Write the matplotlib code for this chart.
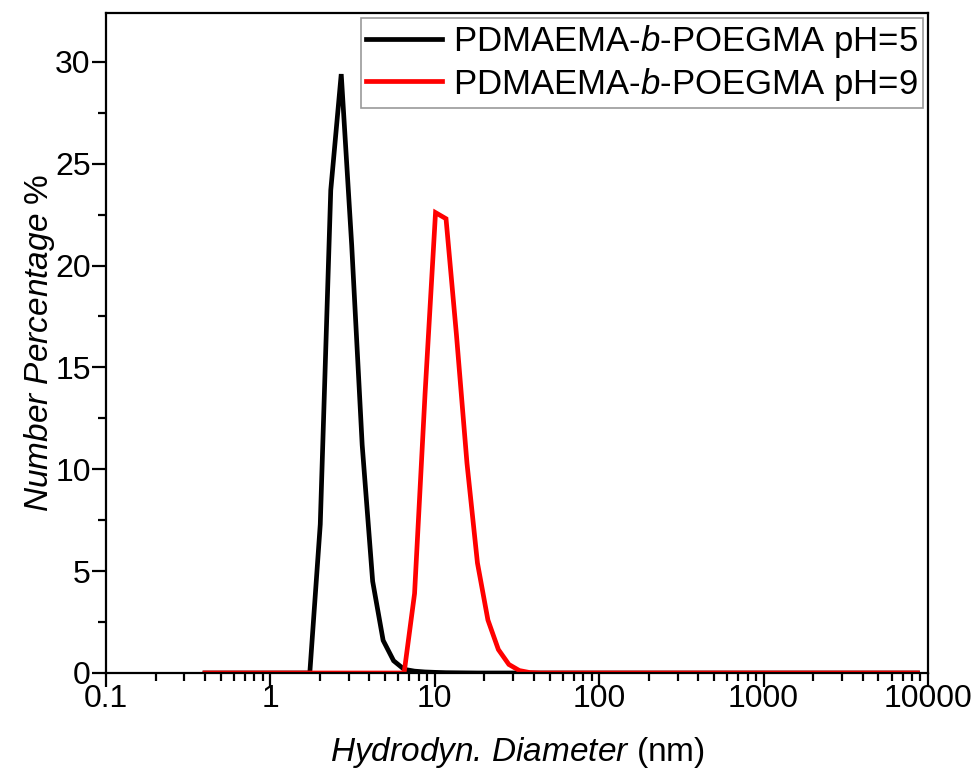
import matplotlib
matplotlib.use("Agg")
import matplotlib.pyplot as plt
from matplotlib.ticker import LogLocator, MultipleLocator, FixedLocator, FixedFormatter, NullFormatter

plt.rcParams['font.family'] = ['Liberation Sans', 'DejaVu Sans']
plt.rcParams['mathtext.fontset'] = 'custom'
plt.rcParams['mathtext.rm'] = 'Liberation Sans'
plt.rcParams['mathtext.it'] = 'Liberation Sans:italic'

# DLS size classes (nm)
diameter_nm = [0.4, 0.4632, 0.5365, 0.6213, 0.7195, 0.8332, 0.9649, 1.117, 1.294, 1.499,
               1.736, 2.01, 2.328, 2.696, 3.122, 3.615, 4.187, 4.849, 5.615, 6.503,
               7.531, 8.721, 10.1, 11.7, 13.54, 15.69, 18.17, 21.04, 24.36, 28.21,
               32.67, 37.84, 43.82, 50.75, 58.77, 68.06, 78.82, 91.28, 105.7, 122.4,
               141.8, 164.2, 190.1, 220.2, 255.0, 295.3, 342.0, 396.1, 458.7, 531.2,
               615.1, 712.4, 825.0, 955.4, 1106, 1281, 1484, 1718, 1990, 2305,
               2669, 3091, 3580, 4145, 4801, 5560, 6439, 7456, 8635]

# Number distribution, pH = 5
number_ph5 = [0, 0, 0, 0, 0, 0, 0, 0, 0, 0,
              0, 7.3, 23.7, 29.4, 21.0, 11.2, 4.5, 1.6, 0.6, 0.18,
              0.09, 0.05, 0.03, 0.015, 0.01, 0.005, 0, 0, 0, 0,
              0, 0, 0, 0, 0, 0, 0, 0, 0, 0,
              0, 0, 0, 0, 0, 0, 0, 0, 0, 0,
              0, 0, 0, 0, 0, 0, 0, 0, 0, 0,
              0, 0, 0, 0, 0, 0, 0, 0, 0]

# Number distribution, pH = 9
number_ph9 = [0, 0, 0, 0, 0, 0, 0, 0, 0, 0,
              0, 0, 0, 0, 0, 0, 0, 0, 0, 0,
              3.9, 13.7, 22.6, 22.3, 16.6, 10.3, 5.4, 2.6, 1.15, 0.42,
              0.12, 0.02, 0, 0, 0, 0, 0, 0, 0, 0,
              0, 0, 0, 0, 0, 0, 0, 0, 0, 0,
              0, 0, 0, 0, 0, 0, 0, 0, 0, 0,
              0, 0, 0, 0, 0, 0, 0, 0, 0]

series_labels = ['PDMAEMA-$\\mathit{b}$-POEGMA pH=5', 'PDMAEMA-$\\mathit{b}$-POEGMA pH=9']
series_colors = ['#000000', '#ff0000']

x_ticks = [0.1, 1, 10, 100, 1000, 10000]
x_tick_labels = ['0.1', '1', '10', '100', '1000', '10000']

fig = plt.figure(figsize=(9.71, 7.81), dpi=100)
ax = fig.add_axes([0.1092, 0.1383, 0.8465, 0.8451])

ax.plot(diameter_nm, number_ph5, color=series_colors[0], lw=3.4, label=series_labels[0],
        solid_joinstyle='miter')
ax.plot(diameter_nm, number_ph9, color=series_colors[1], lw=3.4, label=series_labels[1],
        solid_joinstyle='miter')

ax.set_xscale('log')
ax.set_xlim(0.1, 10000)
ax.set_ylim(0, 32.4)

ax.xaxis.set_major_locator(FixedLocator(x_ticks))
ax.xaxis.set_major_formatter(FixedFormatter(x_tick_labels))
ax.xaxis.set_minor_locator(LogLocator(base=10, subs=range(2, 10), numticks=20))
ax.xaxis.set_minor_formatter(NullFormatter())
ax.yaxis.set_major_locator(MultipleLocator(5))
ax.yaxis.set_minor_locator(MultipleLocator(2.5))

for side in ax.spines.values():
    side.set_linewidth(1.6)

ax.tick_params(which='major', direction='out', length=10, width=1.6, labelsize=23,
               top=False, right=False)
ax.tick_params(which='minor', direction='out', length=5.5, width=1.6, top=False, right=False)
ax.tick_params(axis='x', which='major', pad=-2)
ax.tick_params(axis='y', which='major', pad=1)

ax.set_xlabel('Hydrodyn. Diameter $\\mathrm{(nm)}$', fontsize=24, fontstyle='italic',
              labelpad=15)
ax.set_ylabel('Number Percentage $\\mathrm{\\%}$', fontsize=24, fontstyle='italic',
              labelpad=-1)

leg = ax.legend(loc='upper right', fontsize=25, frameon=True, fancybox=False,
                edgecolor='#808080', handlelength=2.2, handletextpad=0.3,
                borderpad=0.15, labelspacing=0.15, borderaxespad=0.15)
leg.get_frame().set_linewidth(1.2)

fig.savefig('out.png', dpi=100, facecolor='white')
